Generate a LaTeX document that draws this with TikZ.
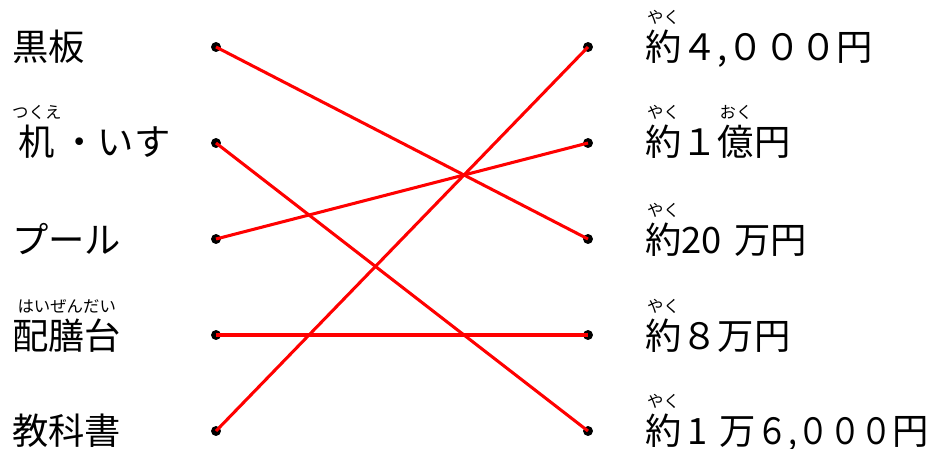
\documentclass[tikz,border=0pt]{standalone}
\usepackage{fontspec}
\setmainfont{Noto Sans CJK JP}
\newcommand{\furigana}[2]{\begin{tabular}[b]{@{}c@{}}\fontsize{14}{14}\selectfont #2\\[-4pt]#1\end{tabular}}

\begin{document}
\begin{tikzpicture}[x=0.03cm,y=-0.03cm]
  \tikzset{
    itemtext/.style={anchor=base west,inner sep=0pt,font=\fontsize{31}{31}\selectfont},
    endpt/.style={circle,fill=black,inner sep=0pt,minimum size=8.5pt},
    link/.style={red,line width=2.6pt}
  }
  \useasboundingbox (0,0) rectangle (932,448);
  % left column
  \node[itemtext] (l1) at (12,60) {黒板};
  \node[itemtext] (l2) at (12,155) {\furigana{机}{つくえ}・いす};
  \node[itemtext] (l3) at (12,253) {プール};
  \node[itemtext] (l4) at (12,349) {\furigana{配膳台}{はいぜんだい}};
  \node[itemtext] (l5) at (12,444) {教科書};
  % right column
  \node[itemtext] (r1) at (645,60) {\furigana{約}{やく}４,０００円};
  \node[itemtext] (r2) at (645,155) {\furigana{約}{やく}１\furigana{億}{おく}円};
  \node[itemtext] (r3) at (645,253) {\furigana{約}{やく}20\hspace{0.35em}万円};
  \node[itemtext] (r4) at (645,349) {\furigana{約}{やく}８万円};
  \node[itemtext] (r5) at (645,444) {\furigana{約}{やく}\,1\,\,万\scalebox{0.88}[1]{６,０００}円};
  % dots
  \foreach \i/\y in {1/47, 2/143, 3/239, 4/335, 5/431}{
    \node[endpt] (a\i) at (216,\y) {};
    \node[endpt] (b\i) at (588,\y) {};
  }
  % answers
  \draw[link] (a1.center) -- (b3.center);
  \draw[link] (a2.center) -- (b5.center);
  \draw[link] (a3.center) -- (b2.center);
  \draw[link] (a4.center) -- (b4.center);
  \draw[link] (a5.center) -- (b1.center);
\end{tikzpicture}
\end{document}
